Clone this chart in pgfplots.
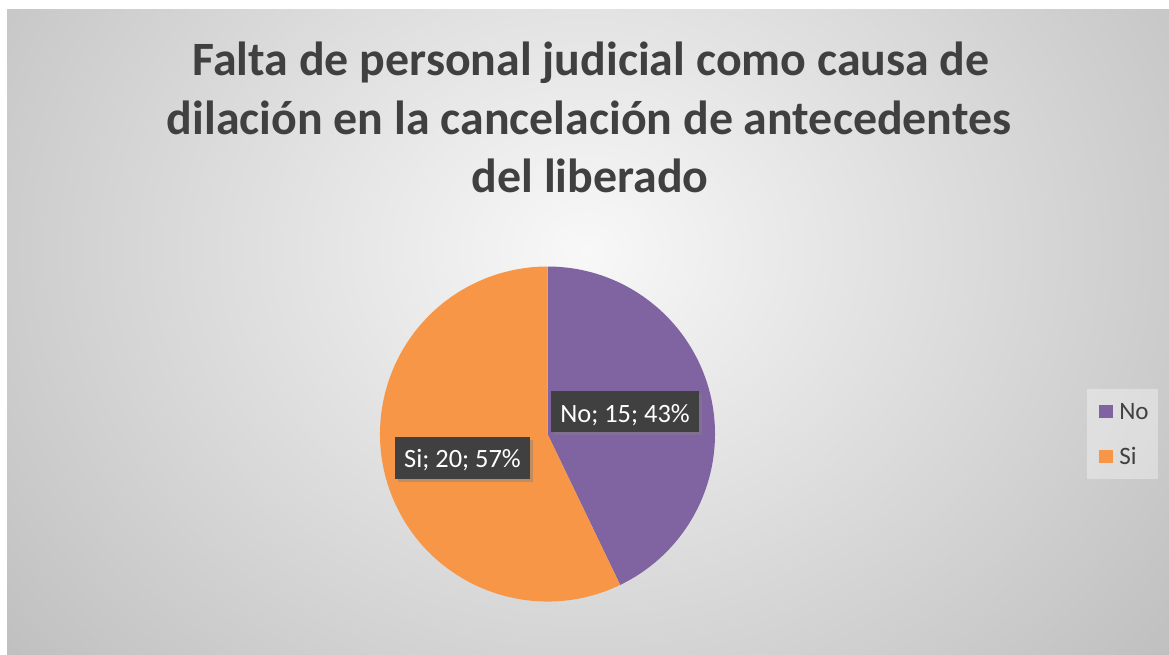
\documentclass[border=0pt]{standalone}
\usepackage{pgfplots}
\pgfplotsset{compat=1.18}
\usepackage{pgfplotstable}
\usepackage{fontspec}
\setmainfont{Carlito}
\usetikzlibrary{shadows}
\definecolor{cNo}{HTML}{8064A2}
\definecolor{cSi}{HTML}{F79646}
\definecolor{ttl}{HTML}{404040}
\definecolor{lbl}{HTML}{404040}
\definecolor{bgin}{HTML}{F8F8F8}
\definecolor{bgout}{HTML}{BFBFBF}
\pgfdeclareradialshading{bgshade}{\pgfpoint{0bp}{0bp}}{color(0bp)=(bgin); color(25bp)=(bgout); color(50bp)=(bgout)}
\pgfplotstableread{
label value pct
No 15 43
Si 20 57
}\piedata
\begin{document}
\begin{tikzpicture}
\pgfplotstablegetelem{0}{value}\of\piedata \let\vNo\pgfplotsretval
\pgfplotstablegetelem{1}{value}\of\piedata \let\vSi\pgfplotsretval
\pgfmathsetmacro\aNo{90-360*\vNo/(\vNo+\vSi)}
\begin{axis}[x=0.75pt, y=0.75pt, xmin=0, xmax=1169, ymin=0, ymax=654,
  y dir=reverse, hide axis, scale only axis, clip=false]
\fill[white] (axis cs:0,0) rectangle (axis cs:1169,654);
\begin{scope}
\clip (axis cs:7,9) rectangle (axis cs:1169,654);
\shade[shading=bgshade] (axis cs:-175,-390) rectangle (axis cs:1345,890);
\end{scope}
% pie
\fill[cNo] (axis cs:547.5,434) -- ++(90:125.625pt) arc[start angle=90, end angle=\aNo, radius=125.625pt] -- cycle;
\fill[cSi] (axis cs:547.5,434) -- ++(\aNo:125.625pt) arc[start angle=\aNo, end angle=-270, radius=125.625pt] -- cycle;
% data labels
\fill[lbl, drop shadow={shadow xshift=2.25pt, shadow yshift=-2.25pt, opacity=0.45}] (axis cs:551,391) rectangle (axis cs:699,432);
\node[anchor=base, text=white, inner sep=0pt, font=\fontsize{19.8}{20}\selectfont] at (axis cs:625,422) {No; 15; 43\%};
\fill[lbl, drop shadow={shadow xshift=2.25pt, shadow yshift=-2.25pt, opacity=0.45}] (axis cs:395,437) rectangle (axis cs:530,479);
\node[anchor=base, text=white, inner sep=0pt, font=\fontsize{19.8}{20}\selectfont] at (axis cs:462.5,467) {Si; 20; 57\%};
% legend
\fill[white, opacity=0.35] (axis cs:1087,389) rectangle (axis cs:1158,479);
\fill[cNo] (axis cs:1099,405) rectangle (axis cs:1113,418);
\fill[cSi] (axis cs:1099,450) rectangle (axis cs:1113,463);
\node[anchor=base west, text=lbl, inner sep=0pt, font=\fontsize{18.8}{19}\selectfont] at (axis cs:1119,419) {No};
\node[anchor=base west, text=lbl, inner sep=0pt, font=\fontsize{18.8}{19}\selectfont] at (axis cs:1119,464) {Si};
% title
\node[anchor=base, text=ttl, inner sep=0pt, font=\fontsize{35.9}{40}\selectfont\bfseries] at (axis cs:591,75) {Falta de personal judicial como causa de};
\node[anchor=base, text=ttl, inner sep=0pt, font=\fontsize{35.9}{40}\selectfont\bfseries] at (axis cs:589,134) {dilación en la cancelación de antecedentes};
\node[anchor=base, text=ttl, inner sep=0pt, font=\fontsize{35.9}{40}\selectfont\bfseries] at (axis cs:590,192) {del liberado};
\end{axis}
\end{tikzpicture}
\end{document}
